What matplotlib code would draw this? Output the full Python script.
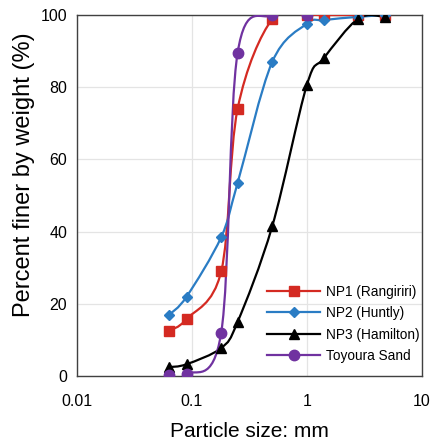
import matplotlib
matplotlib.use('Agg')
import matplotlib.pyplot as plt
from matplotlib.path import Path
from matplotlib.patches import PathPatch
import numpy as np

plt.rcParams['font.family'] = ['Liberation Sans', 'DejaVu Sans']

sizes = [0.063, 0.09, 0.18, 0.25, 0.5, 1.0, 1.4, 2.8, 4.75]
np1 = [12.5, 15.8, 29, 74, 98.9, 100, 100, 100, 100]
np2 = [16.9, 22, 38.5, 53.5, 87, 97.6, 98.6, 99.5, 100]
np3 = [2.5, 3.3, 7.8, 15, 41.5, 80.6, 88, 99, 99.5]
toy_sizes = [0.063, 0.09, 0.18, 0.25, 0.5, 1.0]
toy = [0.3, 0.5, 12, 89.5, 100, 100]

labels = ['NP1 (Rangiriri)', 'NP2 (Huntly)', 'NP3 (Hamilton)', 'Toyoura Sand']
colors = ['#d42a22', '#2a7cc4', '#000000', '#7032a0']
markers = ['s', 'D', '^', 'o']
msizes = [7, 5, 7, 7.5]


def smooth_path(xs, ys):
    # excel-like smoothed line: bezier through points, built in log-x space
    lx = np.log10(xs)
    y = np.asarray(ys, dtype=float)
    n = len(lx)
    verts = [(xs[0], y[0])]
    codes = [Path.MOVETO]
    for i in range(n - 1):
        p0 = (lx[max(i - 1, 0)], y[max(i - 1, 0)])
        p1 = (lx[i], y[i])
        p2 = (lx[i + 1], y[i + 1])
        p3 = (lx[min(i + 2, n - 1)], y[min(i + 2, n - 1)])
        c1 = (p1[0] + (p2[0] - p0[0]) / 6, p1[1] + (p2[1] - p0[1]) / 6)
        c2 = (p2[0] - (p3[0] - p1[0]) / 6, p2[1] - (p3[1] - p1[1]) / 6)
        for c in (c1, c2, p2):
            verts.append((10 ** c[0], c[1]))
            codes.append(Path.CURVE4)
    return Path(verts, codes)


fig = plt.figure(figsize=(4.34, 4.42), dpi=100)
ax = fig.add_axes([0.177, 0.149, 0.795, 0.817])
ax.set_xscale('log')
ax.set_xlim(0.01, 10)
ax.set_ylim(0, 100)

series = [(sizes, np1), (sizes, np2), (sizes, np3), (toy_sizes, toy)]
for (xs, ys), lab, col, mk, ms in zip(series, labels, colors, markers, msizes):
    ax.add_patch(PathPatch(smooth_path(xs, ys), facecolor='none', edgecolor=col,
                           lw=1.6, zorder=3))
    ax.plot(xs, ys, ls='none', marker=mk, color=col, ms=ms, zorder=4)
    ax.plot([], [], color=col, lw=1.6, marker=mk, ms=ms, label=lab)

ax.set_xticks([0.01, 0.1, 1, 10])
ax.set_xticklabels(['0.01', '0.1', '1', '10'])
ax.set_yticks(range(0, 101, 20))
ax.minorticks_off()
ax.tick_params(length=0, labelsize=11.5)
ax.tick_params(axis='x', pad=13)
ax.tick_params(axis='y', pad=7)
ax.grid(True, color='#e4e4e4', lw=0.9)
ax.set_axisbelow(True)
for s in ax.spines.values():
    s.set_color('#404040')
    s.set_linewidth(1.0)

ax.set_xlabel('Particle size: mm', fontsize=15, labelpad=9)
ax.set_ylabel('Percent finer by weight (%)', fontsize=17, labelpad=4, y=0.557)

ax.legend(loc='lower right', bbox_to_anchor=(1.03, 0.0), frameon=False,
          fontsize=9.8, handlelength=3.9, borderaxespad=0.55,
          labelspacing=0.55, handletextpad=0.4)

fig.savefig('out.png', dpi=100)
